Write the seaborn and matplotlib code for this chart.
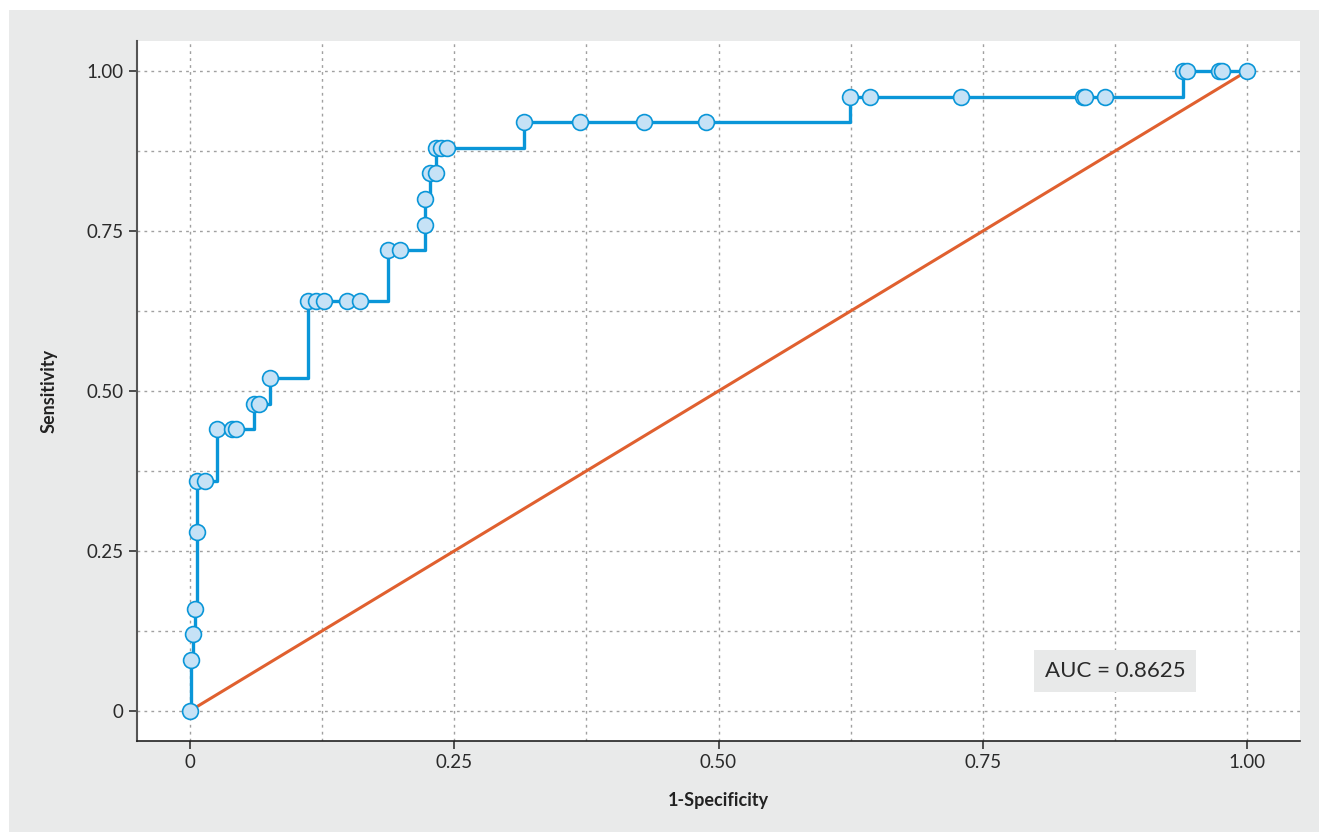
import pandas as pd
import matplotlib.pyplot as plt
import seaborn as sns
from matplotlib.patches import Rectangle

# ROC points
fpr = [0.000, 0.001, 0.003, 0.005, 0.007, 0.007, 0.014, 0.026, 0.040, 0.044,
       0.061, 0.065, 0.076, 0.112, 0.119, 0.127, 0.149, 0.161, 0.187, 0.199,
       0.222, 0.222, 0.227, 0.233, 0.233, 0.238, 0.243, 0.316, 0.369, 0.430,
       0.488, 0.624, 0.643, 0.729, 0.845, 0.847, 0.866, 0.939, 0.943, 0.973,
       0.976, 1.000]
tpr = [0.00, 0.08, 0.12, 0.16, 0.28, 0.36, 0.36, 0.44, 0.44, 0.44,
       0.48, 0.48, 0.52, 0.64, 0.64, 0.64, 0.64, 0.64, 0.72, 0.72,
       0.76, 0.80, 0.84, 0.84, 0.88, 0.88, 0.88, 0.92, 0.92, 0.92,
       0.92, 0.96, 0.96, 0.96, 0.96, 0.96, 0.96, 1.00, 1.00, 1.00,
       1.00, 1.00]
ref_x = [0, 1]
ref_y = [0, 1]
auc_text = 'AUC = 0.8625'
ticks = [0, 0.25, 0.5, 0.75, 1.0]
tick_labels = ['0', '0.25', '0.50', '0.75', '1.00']

df = pd.DataFrame({'fpr': fpr, 'tpr': tpr})

sns.set_style('white')
plt.rcParams['font.family'] = ['Lato', 'DejaVu Sans']

blue = '#0a96d8'
orange = '#e0602f'
panel = '#e9eaea'

fig = plt.figure(figsize=(13.19, 8.33), dpi=100, facecolor='white')
fig.patches.append(Rectangle((9 / 1319, 1 / 833), 1 - 9 / 1319, 822 / 833,
                             transform=fig.transFigure, facecolor=panel,
                             edgecolor='none', zorder=-10))
ax = fig.add_axes([137 / 1319, 92 / 833, 1163 / 1319, 700 / 833])
ax.set_facecolor('white')

# Reference diagonal
sns.lineplot(x=ref_x, y=ref_y, ax=ax, color=orange, linewidth=2.2, zorder=2)

# ROC step curve with markers
ax.plot(df['fpr'], df['tpr'], drawstyle='steps-post', color=blue,
        linewidth=2.4, zorder=3)
sns.scatterplot(data=df, x='fpr', y='tpr', ax=ax, s=130, color='#c6e2f6',
                edgecolor=blue, linewidth=1.2, zorder=4)

ax.set_xlim(-0.05, 1.05)
ax.set_ylim(-0.047, 1.047)
ax.set_xticks(ticks)
ax.set_xticklabels(tick_labels)
ax.set_yticks(ticks)
ax.set_yticklabels(tick_labels)
ax.set_xticks([0.125, 0.375, 0.625, 0.875], minor=True)
ax.set_yticks([0.125, 0.375, 0.625, 0.875], minor=True)
ax.grid(True, which='both', color='#a0a0a0', linestyle=(0, (2, 3)), linewidth=1)
ax.set_axisbelow(True)
ax.tick_params(axis='both', which='major', length=6, width=1.2, color='#333333',
               labelsize=13.5, labelcolor='#2a2a2a', direction='out', bottom=True, left=True)
ax.tick_params(axis='both', which='minor', length=0)

for side in ['top', 'right']:
    ax.spines[side].set_visible(False)
ax.spines['left'].set_color('#555555')
ax.spines['bottom'].set_color('#222222')
ax.spines['left'].set_linewidth(1.5)
ax.spines['bottom'].set_linewidth(1.2)

ax.set_xlabel('1-Specificity', fontsize=13, fontweight='bold', color='#222222', labelpad=15)
ax.set_ylabel('Sensitivity', fontsize=13, fontweight='bold', color='#222222', labelpad=21)

ax.text(0.875, 0.0625, auc_text, fontsize=16, color='#2a2a2a', ha='center', va='center',
        bbox=dict(boxstyle='square,pad=0.5', facecolor='#e8e9e9', edgecolor='none'),
        zorder=5)

fig.savefig('out.png', dpi=100, facecolor='white')
